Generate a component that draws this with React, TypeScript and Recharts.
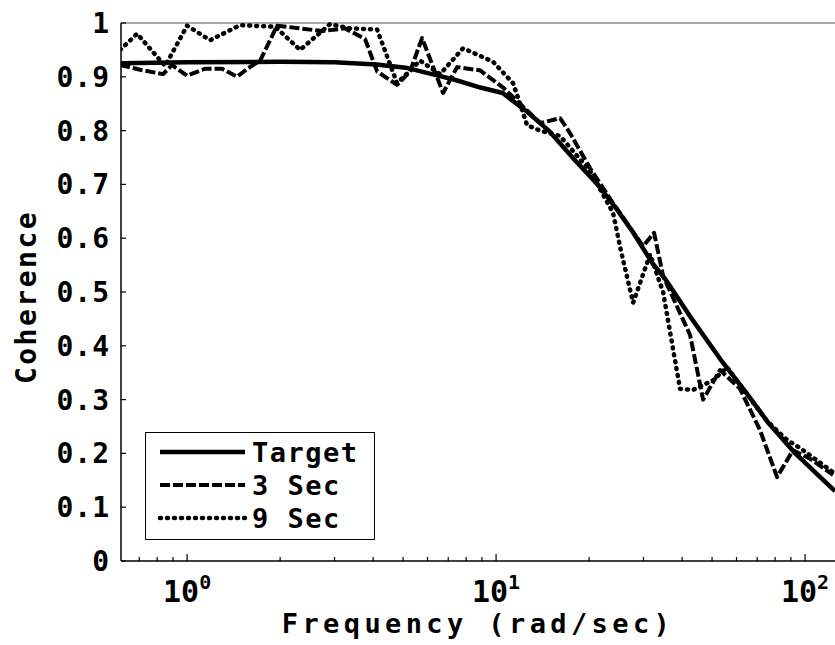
import { LineChart, Line, XAxis, YAxis, ReferenceLine, Legend } from 'recharts';

// frequency (rad/sec) and coherence
const targetFreq = [0.61, 1.0, 2.0, 3.0, 4.1, 5.1, 6.2, 7.3, 8.9, 10.5, 12.6, 14.8, 18, 21.3, 24.5, 27.8, 32.2, 35.5, 43, 54, 65, 76.5, 93, 110, 125];
const targetCoh = [0.925, 0.927, 0.928, 0.927, 0.923, 0.917, 0.905, 0.895, 0.88, 0.87, 0.835, 0.8, 0.745, 0.7, 0.655, 0.61, 0.552, 0.522, 0.45, 0.37, 0.31, 0.255, 0.2, 0.16, 0.13];

const sec3Freq = [0.607, 0.705, 0.836, 0.894, 1.0, 1.143, 1.298, 1.451, 1.576, 1.723, 1.956, 2.321, 2.735, 3.246, 3.768, 4.12, 4.782, 5.268, 5.761, 6.737, 7.478, 8.875, 10.535, 13.88, 16.11, 17.36, 20.15, 23.91, 29.91, 32.46, 34.71, 42.45, 46.77, 53.08, 61.6, 71.5, 81.17, 91.43, 103.8, 123.2];
const sec3Coh = [0.922, 0.913, 0.905, 0.922, 0.902, 0.915, 0.915, 0.9, 0.916, 0.93, 0.995, 0.99, 0.985, 0.99, 0.97, 0.91, 0.885, 0.91, 0.972, 0.87, 0.918, 0.912, 0.88, 0.814, 0.823, 0.795, 0.73, 0.665, 0.585, 0.61, 0.53, 0.42, 0.3, 0.355, 0.32, 0.243, 0.156, 0.206, 0.19, 0.16];

const sec9Freq = [0.607, 0.689, 0.849, 1.0, 1.187, 1.484, 1.927, 2.321, 2.903, 3.37, 4.12, 4.782, 5.676, 6.588, 7.82, 9.779, 11.35, 11.96, 12.6, 13.88, 16.11, 20.15, 23.91, 25.19, 27.76, 31.51, 34.71, 39.39, 43.41, 50.39, 55.92, 75.33, 87.44, 96.34, 123.2];
const sec9Coh = [0.95, 0.98, 0.92, 0.995, 0.968, 0.996, 0.993, 0.95, 0.998, 0.99, 0.988, 0.888, 0.93, 0.905, 0.953, 0.928, 0.888, 0.85, 0.81, 0.8, 0.79, 0.725, 0.647, 0.584, 0.48, 0.57, 0.5, 0.32, 0.318, 0.336, 0.36, 0.26, 0.225, 0.21, 0.165];

const yTicks = [0, 0.1, 0.2, 0.3, 0.4, 0.5, 0.6, 0.7, 0.8, 0.9, 1];
const xMajorTicks = [1, 10, 100];
const xMinorTicks = [0.7, 0.8, 0.9, 2, 3, 4, 5, 6, 7, 8, 9, 20, 30, 40, 50, 60, 70, 80, 90];

const FONT = '"DejaVu Sans Mono", monospace';

const toPoints = (freq: number[], coh: number[]) => freq.map((f, i) => ({ f, c: coh[i] }));

const series = [
    { name: 'Target', data: toPoints(targetFreq, targetCoh), width: 4.5, dash: undefined, cap: 'butt' },
    { name: '3 Sec', data: toPoints(sec3Freq, sec3Coh), width: 4, dash: '10 3', cap: 'butt' },
    { name: '9 Sec', data: toPoints(sec9Freq, sec9Coh), width: 4.5, dash: '1 6', cap: 'round' },
];

const XTick = ({ x, y, payload }: any) => {
    const v = payload.value;
    const exp = Math.round(Math.log10(v));
    const major = Math.abs(Math.log10(v) - exp) < 1e-6;
    return (
        <g>
            <line x1={x} x2={x} y1={y} y2={y - (major ? 7 : 4)} stroke="#000" strokeWidth={1.2} />
            {major && (
                <text x={x} y={y + 41} textAnchor="middle" fontFamily={FONT} fontWeight="bold" fontSize={30} fill="#000">
                    10<tspan dy={-13} fontSize={20}>{exp}</tspan>
                </text>
            )}
        </g>
    );
};

const YTick = ({ x, y, payload }: any) => {
    const v = payload.value;
    const label = v === 0 ? '0' : v === 1 ? '1' : v.toFixed(1);
    return (
        <g>
            <line x1={x} x2={x + 5} y1={y} y2={y} stroke="#000" strokeWidth={1.2} />
            <text x={x - 11} y={y} dy="0.36em" textAnchor="end" fontFamily={FONT} fontWeight="bold" fontSize={28} letterSpacing={1} fill="#000">
                {label}
            </text>
        </g>
    );
};

const YLabel = ({ viewBox }: any) => {
    const cx = viewBox.x + 26;
    const cy = viewBox.y + viewBox.height / 2 + 5;
    return (
        <text x={cx} y={cy} transform={`rotate(-90, ${cx}, ${cy})`} textAnchor="middle" dy="0.36em"
            fontFamily={FONT} fontWeight="bold" fontSize={28} letterSpacing={2.5} fill="#000">
            Coherence
        </text>
    );
};

const XLabel = ({ viewBox }: any) => (
    <text x={viewBox.x + viewBox.width / 2} y={viewBox.y + 72} textAnchor="middle"
        fontFamily={FONT} fontWeight="bold" fontSize={27} letterSpacing={4.4} fill="#000">
        Frequency (rad/sec)
    </text>
);

const CustomLegend = () => (
    <div style={{ width: 230, height: 108, boxSizing: 'border-box', border: '1.5px solid #000', background: '#fff' }}>
        <svg width={227} height={105} style={{ display: 'block' }}>
            {series.map((s, i) => (
                <g key={s.name}>
                    <line x1={14} x2={99} y1={19 + i * 33} y2={19 + i * 33} stroke="#000"
                        strokeWidth={s.width} strokeDasharray={s.dash} strokeLinecap={s.cap as any} />
                    <text x={106} y={19 + i * 33} dy="0.36em" fontFamily={FONT} fontWeight="bold" fontSize={27} letterSpacing={1.5} fill="#000">
                        {s.name}
                    </text>
                </g>
            ))}
        </svg>
    </div>
);

export default function App() {
    return (
        <div style={{ position: 'absolute', left: 0, top: 0, background: '#fff' }}>
            <LineChart width={835} height={645} margin={{ top: 23, right: 0, left: 0, bottom: 0 }}>
                <XAxis
                    dataKey="f"
                    type="number"
                    scale="log"
                    domain={[0.611, 125]}
                    allowDataOverflow
                    ticks={[...xMinorTicks, ...xMajorTicks].sort((a, b) => a - b)}
                    interval={0}
                    tick={<XTick />}
                    tickLine={false}
                    tickSize={0}
                    tickMargin={0}
                    axisLine={{ stroke: '#000', strokeWidth: 1.5 }}
                    height={84}
                    label={<XLabel />}
                />
                <YAxis
                    type="number"
                    domain={[0, 1]}
                    ticks={yTicks}
                    interval={0}
                    tick={<YTick />}
                    tickLine={false}
                    tickSize={0}
                    tickMargin={0}
                    axisLine={{ stroke: '#000', strokeWidth: 1.5 }}
                    width={121}
                    label={<YLabel />}
                />
                <ReferenceLine y={1} stroke="#555" strokeWidth={1} />
                <Legend
                    layout="horizontal"
                    verticalAlign="middle"
                    align="center"
                    content={<CustomLegend />}
                    wrapperStyle={{ left: 145, top: 432, width: 230, height: 108 }}
                />
                {series.map((s) => (
                    <Line
                        key={s.name}
                        name={s.name}
                        data={s.data}
                        dataKey="c"
                        type="linear"
                        stroke="#000"
                        strokeWidth={s.width}
                        strokeDasharray={s.dash}
                        strokeLinecap={s.cap as any}
                        strokeLinejoin="round"
                        dot={false}
                        activeDot={false}
                        isAnimationActive={false}
                    />
                ))}
            </LineChart>
        </div>
    );
}
